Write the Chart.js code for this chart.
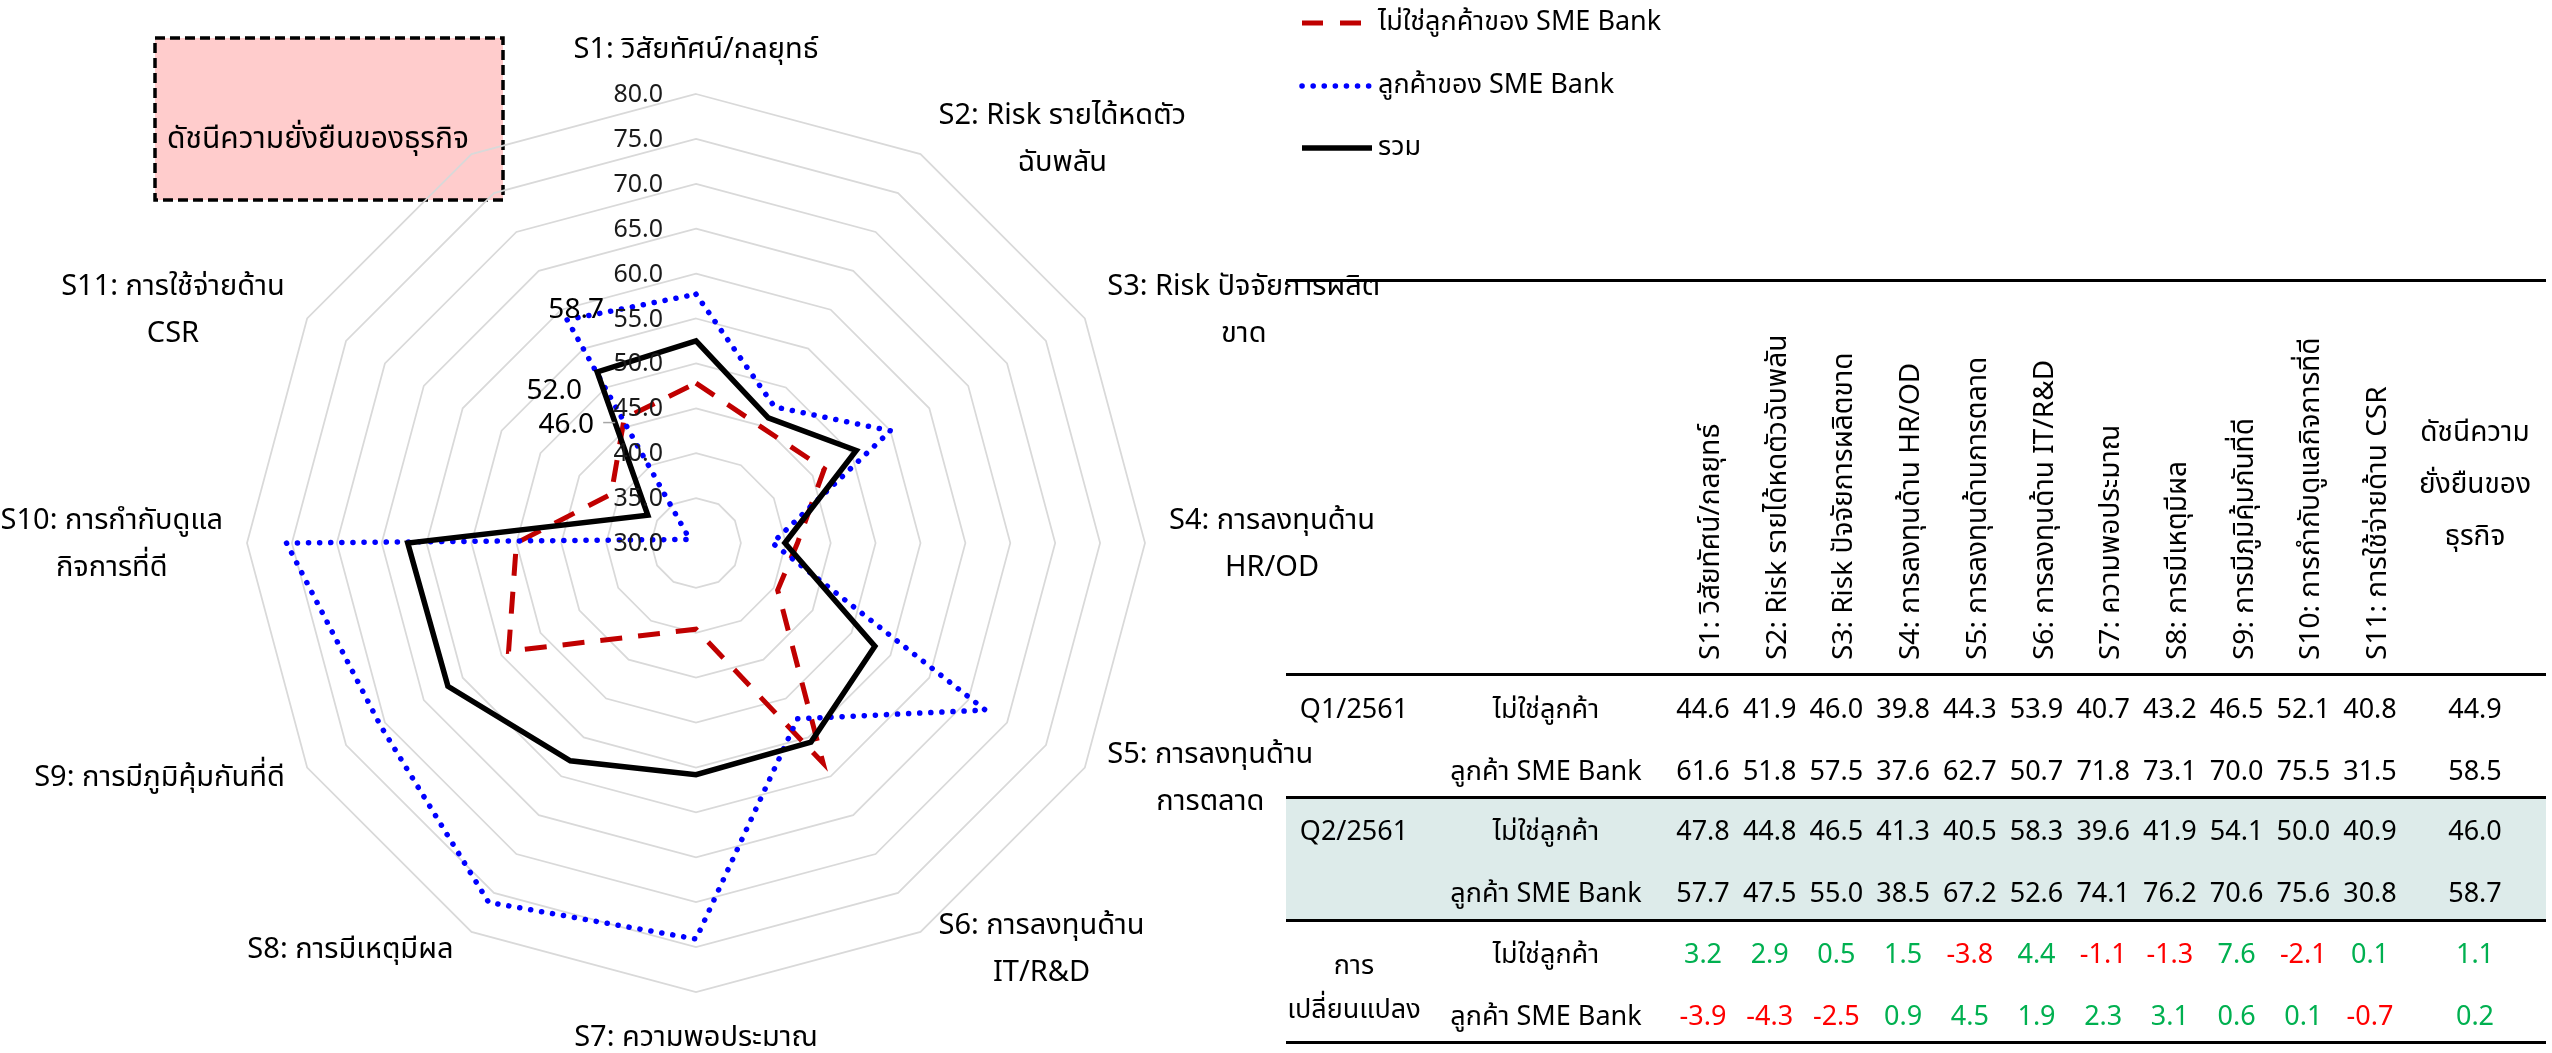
<!DOCTYPE html>
<html lang="th">
<head>
<meta charset="utf-8">
<title>ดัชนีความยั่งยืนของธุรกิจ</title>
<script src="https://cdn.jsdelivr.net/npm/chart.js@4.4.1/dist/chart.umd.min.js"></script>
<style>
  html, body { margin: 0; padding: 0; background: #fff; }
  body { width: 2552px; height: 1053px; position: relative; overflow: hidden;
         font-family: Tahoma, 'Noto Sans Thai', 'Noto Sans Thai UI', Loma, Garuda, 'Noto Sans', sans-serif; }
  #radar { position: absolute; left: 0; top: 0; }
  #tbl { position: absolute; left: 0; top: 0; width: 2552px; height: 1053px; }
  .t { position: absolute; white-space: nowrap; transform: translate(-50%, -50%); font-size: 27px; color: #000; line-height: 1.2; }
  .rule { position: absolute; left: 1286px; width: 1260px; height: 3px; background: #000; }
  .band { position: absolute; left: 1286px; width: 1260px; background: #DDEBEA; }
  .vh { position: absolute; writing-mode: vertical-rl; transform: rotate(180deg); font-size: 28px; white-space: nowrap; line-height: 28px; width: 28px; }
</style>
</head>
<body>
<canvas id="radar" width="2552" height="1053"></canvas>
<div id="tbl"></div>
<script>
const FONT = "Tahoma, 'Noto Sans Thai', 'Noto Sans Thai UI', Loma, Garuda, 'Noto Sans', sans-serif";

// axis labels of the radar (last axis = index, labelled by the box)
const axisLabels = [
  ['S1: วิสัยทัศน์/กลยุทธ์'],
  ['S2: Risk รายได้หดตัว', 'ฉับพลัน'],
  ['S3: Risk ปัจจัยการผลิต', 'ขาด'],
  ['S4: การลงทุนด้าน', 'HR/OD'],
  ['S5: การลงทุนด้าน', 'การตลาด'],
  ['S6: การลงทุนด้าน', 'IT/R&D'],
  ['S7: ความพอประมาณ'],
  ['S8: การมีเหตุมีผล'],
  ['S9: การมีภูมิคุ้มกันที่ดี'],
  ['S10: การกำกับดูแล', 'กิจการที่ดี'],
  ['S11: การใช้จ่ายด้าน', 'CSR'],
  []
];
const tableHeads = [
  'S1: วิสัยทัศน์/กลยุทธ์', 'S2: Risk รายได้หดตัวฉับพลัน', 'S3: Risk ปัจจัยการผลิตขาด',
  'S4: การลงทุนด้าน HR/OD', 'S5: การลงทุนด้านการตลาด', 'S6: การลงทุนด้าน IT/R&D',
  'S7: ความพอประมาณ', 'S8: การมีเหตุมีผล', 'S9: การมีภูมิคุ้มกันที่ดี',
  'S10: การกำกับดูแลกิจการที่ดี', 'S11: การใช้จ่ายด้าน CSR'
];
const indexHead = ['ดัชนีความ', 'ยั่งยืนของ', 'ธุรกิจ'];
const boxTitle = 'ดัชนีความยั่งยืนของธุรกิจ';

const seriesNames = ['ไม่ใช่ลูกค้าของ SME Bank', 'ลูกค้าของ SME Bank', 'รวม'];

// Q2/2561 values (radar + table)
const nonCustomer = [47.8, 44.8, 46.5, 41.3, 40.5, 58.3, 39.6, 41.9, 54.1, 50.0, 40.9, 46.0];
const customer    = [57.7, 47.5, 55.0, 38.5, 67.2, 52.6, 74.1, 76.2, 70.6, 75.6, 30.8, 58.7];
const total       = [52.5, 46.1, 50.6, 39.9, 53.0, 55.6, 55.8, 58.0, 61.9, 62.1, 36.2, 52.0];

// Q1/2561 values
const q1NonCustomer = [44.6, 41.9, 46.0, 39.8, 44.3, 53.9, 40.7, 43.2, 46.5, 52.1, 40.8, 44.9];
const q1Customer    = [61.6, 51.8, 57.5, 37.6, 62.7, 50.7, 71.8, 73.1, 70.0, 75.5, 31.5, 58.5];

// change Q1 -> Q2
const changeNon  = [3.2, 2.9, 0.5, 1.5, -3.8, 4.4, -1.1, -1.3, 7.6, -2.1, 0.1, 1.1];
const changeCust = [-3.9, -4.3, -2.5, 0.9, 4.5, 1.9, 2.3, 3.1, 0.6, 0.1, -0.7, 0.2];

const RED = '#C00000', BLUE = '#0000FF', BLACK = '#000000';

// label offsets for the values printed at the index axis
const endLabelOffset = [[-58, 9], [9, -7], [-43, 21]];

const overlay = {
  id: 'overlay',
  beforeDraw(chart) {
    const ctx = chart.ctx;
    ctx.save();
    ctx.fillStyle = '#FFCCCC';
    ctx.fillRect(155, 38, 348, 162);
    ctx.setLineDash([10, 5]);
    ctx.lineWidth = 3.5;
    ctx.strokeStyle = '#000';
    ctx.strokeRect(155, 38, 348, 162);
    ctx.setLineDash([]);
    ctx.fillStyle = '#000';
    ctx.font = '30px ' + FONT;
    ctx.textAlign = 'left';
    ctx.textBaseline = 'middle';
    ctx.fillText(boxTitle, 167, 142);
    ctx.restore();
  },
  afterDatasetsDraw(chart) {
    const ctx = chart.ctx;
    const r = chart.scales.r;
    ctx.save();

    // tick labels, placed left of the vertical axis
    ctx.font = '25px ' + FONT;
    ctx.fillStyle = '#1a1a1a';
    ctx.textAlign = 'right';
    ctx.textBaseline = 'middle';
    r.ticks.forEach(t => {
      const d = r.getDistanceFromCenterForValue(t.value);
      ctx.fillText(t.value.toFixed(1), r.xCenter - 33, r.yCenter - d + 3);
    });

    // axis (point) labels
    ctx.font = '29px ' + FONT;
    ctx.fillStyle = '#000';
    ctx.textAlign = 'center';
    const n = axisLabels.length;
    axisLabels.forEach((lines, i) => {
      if (!lines.length) return;
      const p = r.getPointPosition(i, r.drawingArea);
      const a = i * Math.PI * 2 / n;
      const s = Math.sin(a), c = Math.cos(a);
      const w = Math.max(...lines.map(l => ctx.measureText(l).width));
      const lh = 47;
      let cx, cy;
      if (Math.abs(s) < 0.01) {
        cx = p.x;
        cy = p.y + (c > 0 ? -42 : 48);
      } else {
        const gap = 12 + 12 * Math.abs(s);
        cx = p.x + Math.sign(s) * (gap + w / 2);
        cy = p.y + 3.5 - 19 * c;
      }
      lines.forEach((l, k) => ctx.fillText(l, cx, cy + (k - (lines.length - 1) / 2) * lh));
    });

    // value labels on the index axis
    ctx.font = '28px ' + FONT;
    chart.data.datasets.forEach((ds, di) => {
      const pt = chart.getDatasetMeta(di).data[n - 1];
      const off = endLabelOffset[di];
      ctx.fillStyle = '#000';
      ctx.fillText(ds.data[n - 1].toFixed(1), pt.x + off[0], pt.y + off[1]);
      if (di === 0) {
        ctx.strokeStyle = '#A6A6A6';
        ctx.lineWidth = 1.5;
        ctx.beginPath();
        ctx.moveTo(pt.x - 21, pt.y + 4);
        ctx.lineTo(pt.x - 9, pt.y + 4);
        ctx.stroke();
      }
    });

    // legend
    const legY = [23, 86, 148];
    ctx.textAlign = 'left';
    ctx.font = '27px ' + FONT;
    chart.data.datasets.forEach((ds, di) => {
      const y = legY[di];
      ctx.beginPath();
      ctx.strokeStyle = ds.borderColor;
      ctx.lineWidth = ds.borderWidth;
      ctx.lineCap = ds.borderCapStyle || 'butt';
      ctx.setLineDash(di === 0 ? [21, 17] : (ds.borderDash || []));
      ctx.moveTo(1302, y);
      ctx.lineTo(di === 0 ? 1362 : 1372, y);
      ctx.stroke();
      ctx.setLineDash([]);
      ctx.fillStyle = '#000';
      ctx.fillText(ds.label, 1378, y + 2);
    });
    ctx.restore();
  }
};

new Chart(document.getElementById('radar'), {
  type: 'radar',
  data: {
    labels: axisLabels.map(l => l.join(' ')),
    datasets: [
      {
        label: seriesNames[0],
        data: nonCustomer,
        borderColor: RED,
        borderWidth: 5,
        borderDash: [22, 16],
        borderJoinStyle: 'miter',
        fill: false,
        pointRadius: 0,
        order: 2
      },
      {
        label: seriesNames[1],
        data: customer,
        borderColor: BLUE,
        borderWidth: 5.5,
        borderDash: [0.1, 11],
        borderCapStyle: 'round',
        fill: false,
        pointRadius: 0,
        order: 1
      },
      {
        label: seriesNames[2],
        data: total,
        borderColor: BLACK,
        borderWidth: 5.5,
        borderJoinStyle: 'miter',
        fill: false,
        pointRadius: 0,
        order: 0
      }
    ]
  },
  options: {
    responsive: false,
    animation: false,
    devicePixelRatio: 1,
    layout: { padding: { left: 247, right: 1407, top: 94, bottom: 61 } },
    elements: { line: { tension: 0 } },
    plugins: { legend: { display: false }, tooltip: { enabled: false } },
    scales: {
      r: {
        min: 30,
        max: 80,
        ticks: { stepSize: 5, display: false },
        grid: { color: '#D9D9D9', lineWidth: 1.75 },
        angleLines: { display: false },
        pointLabels: { display: false }
      }
    }
  },
  plugins: [overlay]
});

// ---- table on the right ----
const tbl = document.getElementById('tbl');
function put(html, x, y, cls, style) {
  const d = document.createElement('div');
  d.className = cls || 't';
  d.innerHTML = html;
  if (x !== null) { d.style.left = x + 'px'; }
  if (y !== null) { d.style.top = y + 'px'; }
  if (style) Object.assign(d.style, style);
  tbl.appendChild(d);
  return d;
}

put('', null, null, 'band', { top: '797px', height: '123px' });
[280, 674, 797, 920, 1042].forEach(y => put('', null, null, 'rule', { top: (y - 1.5) + 'px' }));

const colX = k => 1703 + k * 66.7;
const idxX = 2475;

tableHeads.forEach((h, k) => {
  put(h, null, null, 'vh', { left: (colX(k) + 8 - 14) + 'px', top: '300px', height: '360px' });
});
indexHead.forEach((h, k) => put(h, idxX, 433 + k * 52, 't', { fontSize: '28px' }));

const rows = [
  { y: 710, vals: q1NonCustomer, who: 'ไม่ใช่ลูกค้า', q: 'Q1/2561' },
  { y: 772, vals: q1Customer, who: 'ลูกค้า SME Bank' },
  { y: 832, vals: nonCustomer, who: 'ไม่ใช่ลูกค้า', q: 'Q2/2561' },
  { y: 894, vals: customer, who: 'ลูกค้า SME Bank' },
  { y: 955, vals: changeNon, who: 'ไม่ใช่ลูกค้า', change: true },
  { y: 1017, vals: changeCust, who: 'ลูกค้า SME Bank', change: true }
];
rows.forEach(r => {
  if (r.q) put(r.q, 1354, r.y);
  put(r.who, 1546, r.y);
  r.vals.forEach((v, k) => {
    const x = k < 11 ? colX(k) : idxX;
    const st = r.change ? { color: v < 0 ? '#FF0000' : '#00B050' } : null;
    put(v.toFixed(1), x, r.y, 't', st);
  });
});
put('การ', 1354, 966);
put('เปลี่ยนแปลง', 1354, 1010);
</script>
</body>
</html>
